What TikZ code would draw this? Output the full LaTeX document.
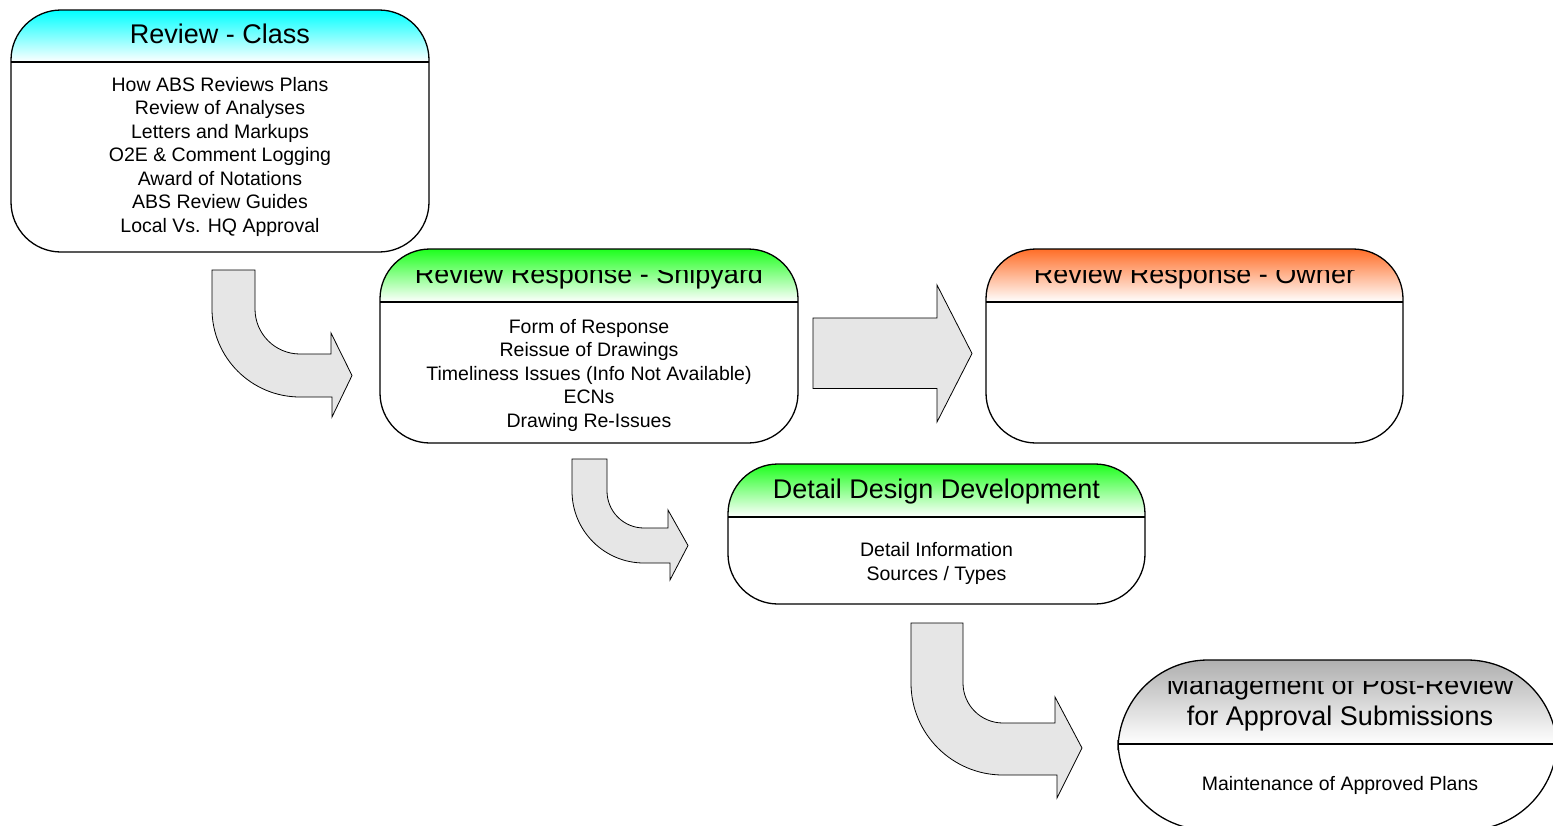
\documentclass[tikz,border=0pt]{standalone}
\usepackage{fontspec}
\setmainfont{Liberation Sans}
\definecolor{hcyan}{RGB}{0,255,255}
\definecolor{hgreen}{RGB}{30,255,30}
\definecolor{horange}{RGB}{255,110,40}
\definecolor{hgray}{RGB}{175,175,175}
\definecolor{arrowfill}{RGB}{230,230,230}
\tikzset{
 boxshape/.style={draw=black, line width=1.3pt, rectangle, inner sep=0pt, outer sep=0pt},
 boxline/.style={draw=black, line width=1.3pt},
 hdrtext/.style={anchor=base, inner sep=0pt, font=\fontsize{27}{30}\selectfont},
 bodytext/.style={anchor=base, inner sep=0pt, font=\fontsize{19.5}{23.5}\selectfont},
 blockarrow/.style={fill=arrowfill, draw=black, line width=0.8pt, line join=miter},
}
% #1 name, #2 x1, #3 y1, #4 x2, #5 y2, #6 y of header line, #7 radius, #8 colour
\newcommand\hdrbox[8]{%
  \begin{scope}
   \clip[rounded corners=#7] (#2,-#3) rectangle (#4,-#5);
   \fill[top color=#8, bottom color=white] (#2,-#3) rectangle (#4,-#6);
  \end{scope}
  \node[boxshape, rounded corners=#7, minimum width={#4-#2}, minimum height={#5-#3}] (#1) at ({(#2+#4)/2},{-(#3+#5)/2}) {};
  \draw[boxline] (#2,-#6) -- (#4,-#6);
}
% #1 name, #2 cx, #3 first baseline, #4 spacing, #5 lines
\newcommand\bodylines[5]{%
  \foreach \t [count=\i] in {#5} {\node[bodytext] (#1-\i) at (#2,{-(#3+(\i-1)*#4)}) {\t};}%
}
\begin{document}
\begin{tikzpicture}[x=1pt,y=1pt]
\clip (0,0) rectangle (1553,-825);
\useasboundingbox (0,0) rectangle (1553,-825);

% ---- block arrows ----
\draw[blockarrow] (212,-270) -- (255,-270) -- (255,-309)
   arc[start angle=180, end angle=270, radius=45] -- (331,-354) -- (331,-333)
   -- (352,-375.5) -- (332,-417) -- (332,-397) -- (300,-397)
   arc[start angle=270, end angle=180, radius=88] -- cycle;

\draw[blockarrow] (572,-459) -- (607,-459) -- (607,-491)
   arc[start angle=180, end angle=270, radius=37] -- (668,-528) -- (668,-510)
   -- (688,-545.5) -- (670,-580) -- (670,-563) -- (644,-563)
   arc[start angle=270, end angle=180, radius=72] -- cycle;

\draw[blockarrow] (911,-623) -- (963,-623) -- (963,-683)
   arc[start angle=180, end angle=270, radius=40] -- (1055,-723) -- (1055,-697)
   -- (1082,-748) -- (1057,-798) -- (1057,-775) -- (1003,-775)
   arc[start angle=270, end angle=180, radius=92] -- cycle;

\draw[blockarrow] (813,-318) -- (937,-318) -- (937,-285) -- (972,-353.5)
   -- (937,-422) -- (937,-388.5) -- (813,-388.5) -- cycle;

% ---- boxes ----
\hdrbox{class}{11}{10}{429}{252}{62}{50pt}{hcyan}
\node[hdrtext] (class-t) at (220,-43.3) {Review - Class};
\bodylines{class}{220}{91}{23.5}{How ABS Reviews Plans, Review of Analyses, Letters and Markups, O2E \& Comment Logging, Award of Notations, ABS Review Guides, Local Vs. HQ Approval}

\hdrbox{ship}{380}{249}{798}{443}{302}{50pt}{hgreen}
\begin{scope}
 \clip (380,-270) rectangle (798,-302);
 \node[hdrtext] (ship-t) at (589,-283.3) {Review Response - Shipyard};
\end{scope}
\bodylines{ship}{589}{333}{23.5}{Form of Response, Reissue of Drawings, Timeliness Issues (Info Not Available), ECNs, Drawing Re-Issues}

\hdrbox{owner}{986}{249}{1403}{443}{302}{50pt}{horange}
\begin{scope}
 \clip (986,-270) rectangle (1403,-302);
 \node[hdrtext] (owner-t) at (1194.5,-283.3) {Review Response - Owner};
\end{scope}

\hdrbox{detail}{728}{464}{1145}{604}{517}{50pt}{hgreen}
\node[hdrtext] (detail-t) at (936.5,-498) {Detail Design Development};
\bodylines{detail}{936.5}{556.5}{23.5}{Detail Information, Sources / Types}

\hdrbox{mgmt}{1118}{660}{1557}{830}{744}{90pt}{hgray}
\begin{scope}
 \clip (1118,-681) rectangle (1557,-744);
 \node[hdrtext] (mgmt-t1) at (1340,-694.5) {Management of Post-Review};
 \node[hdrtext] (mgmt-t2) at (1340,-725.5) {for Approval Submissions};
\end{scope}
\bodylines{mgmt}{1340}{790}{23.5}{Maintenance of Approved Plans}
\end{tikzpicture}
\end{document}
